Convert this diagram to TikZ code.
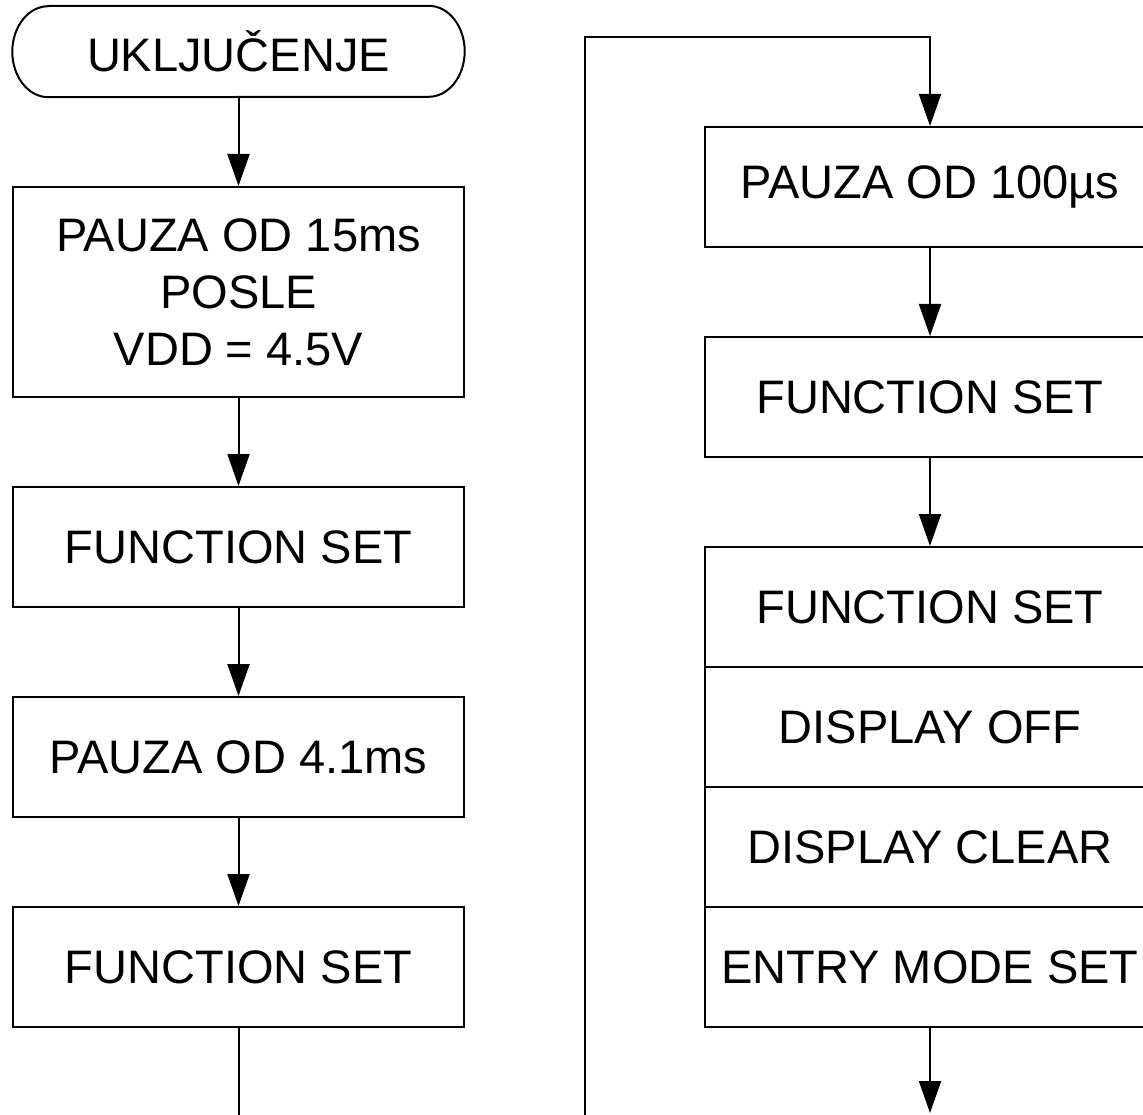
\documentclass[tikz,border=0pt]{standalone}
\usepackage{fontspec}
\setmainfont{Liberation Sans}
\usetikzlibrary{arrows.meta}
\begin{document}
\begin{tikzpicture}[x=1pt,y=1pt,
  every node/.style={font=\fontsize{47}{57}\selectfont, align=center, inner sep=0pt},
  stepbox/.style={draw, line width=2pt, minimum width=451pt, minimum height=120pt},
  flow/.style={line width=2pt, -{Triangle[length=32pt,width=22pt]}},
  plain/.style={line width=2pt}]
\useasboundingbox (0,0) rectangle (1143,-1115);
\clip (0,0) rectangle (1143,-1115);

% left column
\node (start) at (238.5,-51.5) [minimum width=452pt, minimum height=91pt] {UKLJUČENJE};
\draw[plain] ([xshift=36pt]start.north west) -- ([xshift=-36pt]start.north east)
  arc[start angle=90, end angle=-90, x radius=36pt, y radius=45.5pt]
  -- ([xshift=36pt]start.south west)
  arc[start angle=270, end angle=90, x radius=36pt, y radius=45.5pt] -- cycle;
\node[stepbox, minimum height=210pt] (wait15) at (238.5,-292) {PAUZA OD 15ms\\POSLE\\VDD = 4.5V};
\node[stepbox] (fs1) at (238.5,-547) {FUNCTION SET};
\node[stepbox] (wait41) at (238.5,-757) {PAUZA OD 4.1ms};
\node[stepbox] (fs2) at (238.5,-967) {FUNCTION SET};
\coordinate (leftend) at (238.5,-1120);

\draw[flow] (start) -- (wait15);
\draw[flow] (wait15) -- (fs1);
\draw[flow] (fs1) -- (wait41);
\draw[flow] (wait41) -- (fs2);
\draw[plain] (fs2) -- (leftend);

% right column
\node[stepbox] (wait100) at (930,-187) {PAUZA OD 100µs};
\node[stepbox] (fs3) at (930,-397) {FUNCTION SET};
\node[stepbox] (fs4) at (930,-607) {FUNCTION SET};
\node[stepbox] (doff) at (930,-727) {DISPLAY OFF};
\node[stepbox] (dclr) at (930,-847) {DISPLAY CLEAR};
\node[stepbox] (entry) at (930,-967) {ENTRY MODE SET};
\coordinate (loopin) at (585,-1120);
\coordinate (looptop) at (585,-37);
\coordinate (rightend) at (930,-1113);

\draw[flow] (loopin) -- (looptop) -| (wait100);
\draw[flow] (wait100) -- (fs3);
\draw[flow] (fs3) -- (fs4);
\draw[flow] (entry) -- (rightend);
\end{tikzpicture}
\end{document}
